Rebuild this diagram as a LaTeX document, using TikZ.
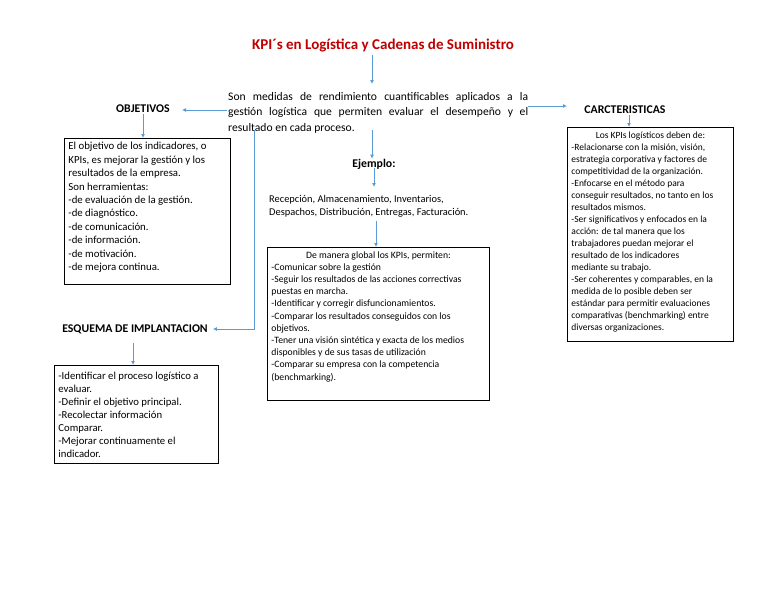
\documentclass[tikz,border=0pt]{standalone}
\usepackage{fontspec}
\setmainfont{Carlito}
\usetikzlibrary{arrows.meta}
\definecolor{arr}{HTML}{5B9BD5}
\definecolor{ttl}{HTML}{C00000}
\begin{document}
\begin{tikzpicture}[x=1pt,y=-1pt,
  box/.style={draw=black, line width=0.9pt, anchor=north west, inner xsep=4pt, inner ysep=4pt},
  conn/.style={draw=arr, line width=0.9pt, -{Latex[length=4pt,width=4pt]}},
  head/.style={font=\bfseries\fontsize{11.8}{13}\selectfont, inner sep=1pt}]
\useasboundingbox[fill=white] (0,0) rectangle (768,594);

\node[font=\bfseries\fontsize{15}{17}\selectfont, text=ttl] (title) at (383,45) {KPI´s en Logística y Cadenas de Suministro};

\node[anchor=north west, inner sep=0pt, text width=300pt, align=justify, font=\fontsize{11.6}{15.5}\selectfont] (main) at (228,92)
 {Son medidas de rendimiento cuantificables aplicados a la\linebreak gestión logística que permiten evaluar el desempeño y el\linebreak resultado en cada proceso.};

\node[head] (obj) at (143,109) {OBJETIVOS};
\node[head] (car) at (625,110) {CARCTERISTICAS};
\node[head] (ejem) at (374,164) {Ejemplo:};
\node[head] (esq) at (135,329) {ESQUEMA DE IMPLANTACION};

\node[anchor=north west, inner sep=0pt, align=left, font=\fontsize{10.4}{13}\selectfont] (recep) at (269,195)
 {Recepción, Almacenamiento, Inventarios,\\Despachos, Distribución, Entregas, Facturación.};

\node[box] (objbox) at (64,138)
 {\parbox[c][138pt][t]{158pt}{\fontsize{10.8}{13.4}\selectfont\raggedright
 El objetivo de los indicadores, o\\KPIs, es mejorar la gestión y los\\resultados de la empresa.\\Son herramientas:\\-de evaluación de la gestión.\\-de diagnóstico.\\-de comunicación.\\-de información.\\-de motivación.\\-de mejora continua.}};

\node[box] (carbox) at (567,127)
 {\parbox[c][206pt][t]{158pt}{\fontsize{9.5}{12.05}\selectfont
 \centering Los KPIs logísticos deben de:\par\raggedright
 -Relacionarse con la misión, visión,\\estrategia corporativa y factores de\\competitividad de la organización.\\-Enfocarse en el método para\\conseguir resultados, no tanto en los\\resultados mismos.\\-Ser significativos y enfocados en la\\acción: de tal manera que los\\trabajadores puedan mejorar el\\resultado de los indicadores\\mediante su trabajo.\\-Ser coherentes y comparables, en la\\medida de lo posible deben ser\\estándar para permitir evaluaciones\\comparativas (benchmarking) entre\\diversas organizaciones.}};

\node[box] (globbox) at (267,247)
 {\parbox[c][145pt][t]{214pt}{\fontsize{9.7}{12.2}\selectfont
 \centering De manera global los KPIs, permiten:\par\raggedright
 -Comunicar sobre la gestión\\-Seguir los resultados de las acciones correctivas\\puestas en marcha.\\-Identificar y corregir disfuncionamientos.\\-Comparar los resultados conseguidos con los\\objetivos.\\-Tener una visión sintética y exacta de los medios\\disponibles y de sus tasas de utilización\\-Comparar su empresa con la competencia\\(benchmarking).}};

\node[box] (esqbox) at (54,365)
 {\parbox[c][90pt][t]{156pt}{\fontsize{10.7}{12.9}\selectfont\raggedright
 \vspace*{3pt}-Identificar el proceso logístico a\\evaluar.\\-Definir el objetivo principal.\\-Recolectar información\\Comparar.\\-Mejorar continuamente el\\indicador.}};

\coordinate (vtop) at (254,130);
\coordinate (vbot) at (254,329);
\coordinate (ls) at (227,110);
\coordinate (le) at (182,110);
\coordinate (rs) at (528,106);
\coordinate (re) at (567,106);

\draw[conn] (title.south -| 372,0) -- (372,84);
\draw[conn] (ls) -- (le);
\draw[conn] (rs) -- (re);
\draw[conn] (obj.south) -- (objbox.north -| obj.south);
\draw[conn] (car.south -| 629,0) -- (carbox.north -| 629,0);
\draw[conn] (372,130) -- ([yshift=-1pt]ejem.north -| 372,0);
\draw[conn] ([yshift=2pt]ejem.south -| 374,0) -- (374,187);
\draw[conn] (376,221) -- (globbox.north -| 376,0);
\draw[conn] (vtop) -- (vbot) -- ([xshift=4pt]esq.east);
\draw[conn] (133,343) -- (esqbox.north -| 133,0);
\end{tikzpicture}
\end{document}
